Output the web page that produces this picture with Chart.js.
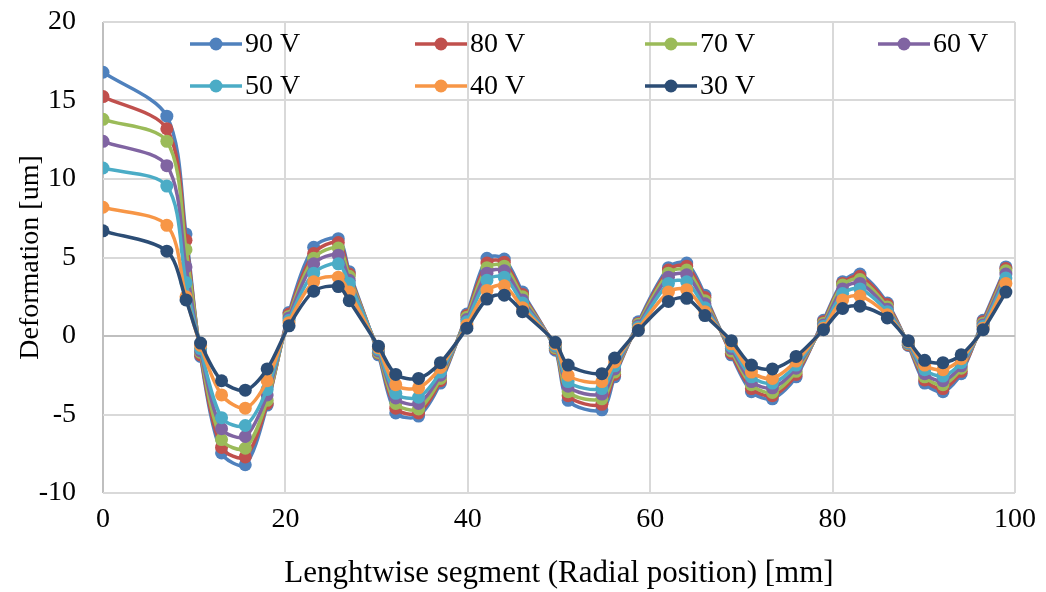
<!DOCTYPE html>
<html>
<head>
<meta charset="utf-8">
<script src="https://cdn.jsdelivr.net/npm/chart.js@4.4.1/dist/chart.umd.min.js"></script>
<style>
  html, body { margin: 0; padding: 0; background: #fff; }
  #wrap { width: 1046px; height: 592px; }
</style>
</head>
<body>
<div id="wrap"><canvas id="chart"></canvas></div>
<script>
// radial positions [mm]
const positions = [0, 7, 9.1, 10.7, 13, 15.6, 18, 20.4, 23.1, 25.8, 27, 30.2, 32.1, 34.6, 37, 39.9, 42.1, 44, 46, 49.6, 51, 54.7, 56.1, 58.7, 62, 64, 66, 68.9, 71.1, 73.4, 76, 79, 81.1, 83, 86, 88.3, 90.1, 92.1, 94.1, 96.5, 99];

// deformation [um] per voltage
const v90 = [16.8, 14.0, 6.5, -1.3, -7.45, -8.2, -4.4, 1.5, 5.65, 6.2, 4.1, -1.2, -4.9, -5.1, -3.0, 1.4, 4.95, 4.9, 2.8, -0.9, -4.1, -4.7, -2.6, 0.9, 4.35, 4.65, 2.6, -1.2, -3.55, -4.0, -2.6, 1.0, 3.45, 3.95, 2.1, -0.6, -3.0, -3.55, -2.4, 1.0, 4.4];
const v80 = [15.25, 13.2, 6.1, -1.2, -7.1, -7.7, -4.3, 1.4, 5.25, 5.95, 3.95, -1.1, -4.6, -4.9, -2.85, 1.3, 4.65, 4.7, 2.65, -0.8, -3.8, -4.35, -2.45, 0.8, 4.2, 4.45, 2.45, -1.1, -3.35, -3.8, -2.45, 0.9, 3.35, 3.8, 2.0, -0.55, -2.8, -3.35, -2.25, 0.9, 4.3];
const v70 = [13.8, 12.4, 5.5, -1.05, -6.6, -7.15, -4.1, 1.25, 4.95, 5.6, 3.8, -1.05, -4.3, -4.65, -2.7, 1.2, 4.35, 4.45, 2.5, -0.75, -3.55, -4.0, -2.3, 0.75, 4.0, 4.2, 2.25, -0.95, -3.1, -3.6, -2.25, 0.8, 3.25, 3.6, 1.85, -0.5, -2.6, -3.1, -2.05, 0.8, 4.15];
const v60 = [12.4, 10.85, 4.4, -0.95, -5.9, -6.4, -3.75, 1.15, 4.6, 5.15, 3.55, -0.95, -3.95, -4.3, -2.5, 1.05, 4.0, 4.15, 2.3, -0.65, -3.2, -3.7, -2.1, 0.65, 3.75, 3.9, 2.05, -0.8, -2.9, -3.3, -2.05, 0.7, 3.0, 3.35, 1.7, -0.45, -2.4, -2.85, -1.9, 0.7, 3.95];
const v50 = [10.7, 9.55, 3.4, -0.8, -5.2, -5.7, -3.4, 1.0, 4.0, 4.6, 3.35, -0.85, -3.65, -3.9, -2.3, 0.9, 3.55, 3.75, 2.1, -0.6, -2.9, -3.35, -1.9, 0.55, 3.35, 3.45, 1.8, -0.65, -2.6, -3.0, -1.85, 0.6, 2.7, 3.0, 1.55, -0.4, -2.15, -2.55, -1.7, 0.6, 3.7];
const v40 = [8.2, 7.05, 2.5, -0.6, -3.75, -4.6, -2.85, 0.85, 3.45, 3.75, 2.8, -0.75, -3.1, -3.3, -2.0, 0.7, 2.9, 3.2, 1.8, -0.5, -2.5, -2.9, -1.65, 0.45, 2.8, 2.95, 1.55, -0.5, -2.3, -2.7, -1.6, 0.5, 2.3, 2.55, 1.35, -0.35, -1.85, -2.15, -1.45, 0.5, 3.35];
const v30 = [6.7, 5.4, 2.3, -0.45, -2.85, -3.45, -2.1, 0.65, 2.85, 3.15, 2.25, -0.65, -2.45, -2.7, -1.7, 0.5, 2.35, 2.6, 1.55, -0.4, -1.85, -2.4, -1.4, 0.35, 2.2, 2.4, 1.3, -0.3, -1.85, -2.1, -1.3, 0.4, 1.75, 1.9, 1.15, -0.3, -1.55, -1.7, -1.2, 0.4, 2.8];

const seriesNames = ["90 V", "80 V", "70 V", "60 V", "50 V", "40 V", "30 V"];
const seriesValues = [v90, v80, v70, v60, v50, v40, v30];
const seriesColors = ["#4f81bd", "#c0504d", "#9bbb59", "#8064a2", "#4bacc6", "#f79646", "#2c4d75"];

const yTicks = [-10, -5, 0, 5, 10, 15, 20];
const xTicks = [0, 20, 40, 60, 80, 100];

const FONT = "'Liberation Serif', 'Times New Roman', serif";

const datasets = seriesNames.map(function (name, i) {
  return {
    label: name,
    data: positions.map(function (x, j) { return { x: x, y: seriesValues[i][j] }; }),
    borderColor: seriesColors[i],
    backgroundColor: seriesColors[i],
    pointBackgroundColor: seriesColors[i],
    pointBorderColor: seriesColors[i],
    pointBorderWidth: 0,
    pointRadius: 6.5,
    borderWidth: 3.5,
    tension: 0.3,
    fill: false,
    order: seriesNames.length - 1 - i, // 30 V ends up on top
  };
});

// legend laid out as a 4 column grid, like the original
const gridLegend = {
  id: "gridLegend",
  afterDatasetsDraw: function (chart) {
    const ctx = chart.ctx;
    const cols = [190, 415, 645, 878];
    const rows = [44, 86];
    ctx.save();
    ctx.font = "28px " + FONT;
    ctx.textBaseline = "middle";
    ctx.textAlign = "left";
    seriesNames.forEach(function (name, i) {
      const x = cols[i % 4];
      const y = rows[Math.floor(i / 4)];
      ctx.strokeStyle = seriesColors[i];
      ctx.lineWidth = 3.5;
      ctx.beginPath();
      ctx.moveTo(x, y);
      ctx.lineTo(x + 52, y);
      ctx.stroke();
      ctx.fillStyle = seriesColors[i];
      ctx.beginPath();
      ctx.arc(x + 26, y, 6.5, 0, Math.PI * 2);
      ctx.fill();
      ctx.fillStyle = "#000";
      ctx.fillText(name, x + 55, y + 1);
    });
    ctx.restore();
  },
};

new Chart(document.getElementById("chart"), {
  type: "line",
  data: { datasets: datasets },
  plugins: [gridLegend],
  options: {
    responsive: true,
    maintainAspectRatio: false,
    animation: false,
    layout: { padding: { left: 0, right: 30, top: 22, bottom: 0 } },
    plugins: {
      legend: { display: false },
      tooltip: { enabled: false },
    },
    scales: {
      x: {
        type: "linear",
        min: 0,
        max: 100,
        afterBuildTicks: function (axis) {
          axis.ticks = xTicks.map(function (v) { return { value: v }; });
        },
        afterFit: function (axis) { axis.height = 99; },
        grid: {
          color: function (c) { return c.tick && c.tick.value === 0 ? "#bfbfbf" : "#d9d9d9"; },
          lineWidth: 2,
          drawTicks: false,
        },
        border: { display: false },
        ticks: { font: { family: FONT, size: 28 }, color: "#000", padding: 10, maxRotation: 0 },
        title: {
          display: true,
          text: "Lenghtwise segment (Radial position) [mm]",
          font: { family: FONT, size: 31 },
          color: "#000",
          padding: { top: 0, bottom: 0 },
        },
      },
      y: {
        type: "linear",
        min: -10,
        max: 20,
        afterBuildTicks: function (axis) {
          axis.ticks = yTicks.map(function (v) { return { value: v }; });
        },
        afterFit: function (axis) {
          axis.width = 103;
          axis.paddingTop = 0;
          axis.paddingBottom = 0;
        },
        grid: {
          color: function (c) { return c.tick && c.tick.value === 0 ? "#bfbfbf" : "#d9d9d9"; },
          lineWidth: 2,
          drawTicks: false,
        },
        border: { display: false },
        ticks: { font: { family: FONT, size: 28 }, color: "#000", padding: 27 },
        title: {
          display: true,
          text: "Deformation [um]",
          font: { family: FONT, size: 28 },
          color: "#000",
          padding: { top: 14, bottom: 0 },
        },
      },
    },
  },
});
</script>
</body>
</html>
